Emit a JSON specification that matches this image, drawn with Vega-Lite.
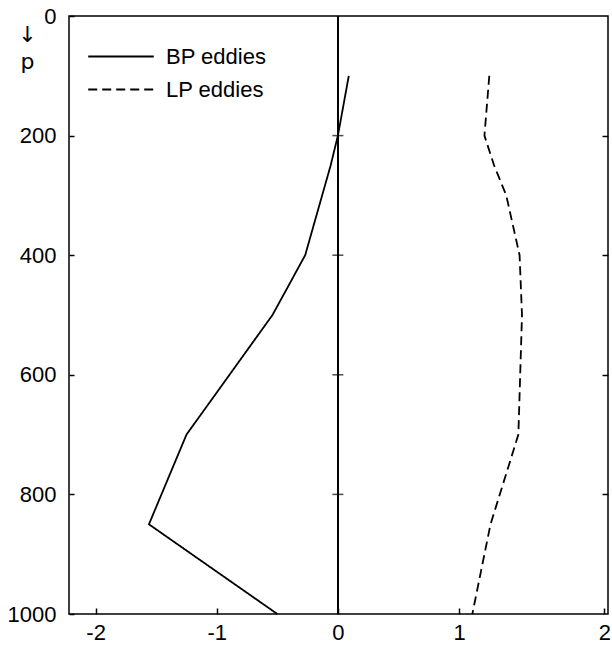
{
  "$schema": "https://vega.github.io/schema/vega-lite/v6.json",
  "width": 539,
  "height": 598,
  "autosize": {"type": "none"},
  "padding": {"left": 69, "top": 16, "right": 4, "bottom": 31},
  "background": "white",
  "config": {
    "view": {"stroke": "black", "strokeWidth": 1.5},
    "font": "Liberation Sans",
    "axis": {"grid": false, "domain": false, "labelFontSize": 22, "labelColor": "black", "tickColor": "black", "tickWidth": 1.5, "labelFont": "Liberation Sans"}
  },
  "datasets": {
    "profiles": [
      {"series": "BP eddies", "p": 100, "v": 0.09},
      {"series": "BP eddies", "p": 200, "v": 0.0},
      {"series": "BP eddies", "p": 250, "v": -0.06},
      {"series": "BP eddies", "p": 400, "v": -0.27},
      {"series": "BP eddies", "p": 500, "v": -0.54},
      {"series": "BP eddies", "p": 700, "v": -1.25},
      {"series": "BP eddies", "p": 850, "v": -1.56},
      {"series": "BP eddies", "p": 1000, "v": -0.5},
      {"series": "LP eddies", "p": 100, "v": 1.25},
      {"series": "LP eddies", "p": 200, "v": 1.21},
      {"series": "LP eddies", "p": 250, "v": 1.29},
      {"series": "LP eddies", "p": 300, "v": 1.39},
      {"series": "LP eddies", "p": 400, "v": 1.5},
      {"series": "LP eddies", "p": 500, "v": 1.52},
      {"series": "LP eddies", "p": 700, "v": 1.49},
      {"series": "LP eddies", "p": 850, "v": 1.26},
      {"series": "LP eddies", "p": 1000, "v": 1.11}
    ],
    "zeroTicks": [
      {"v": 0, "p": 200},
      {"v": 0, "p": 400},
      {"v": 0, "p": 600},
      {"v": 0, "p": 800}
    ]
  },
  "layer": [
    {
      "data": {"name": "zeroTicks"},
      "mark": {"type": "rule", "color": "black", "strokeWidth": 1.5},
      "encoding": {
        "x": {"datum": 0, "type": "quantitative", "scale": {"domain": [-2.22, 2.23], "nice": false, "zero": false},
          "axis": {"values": [-2, -1, 0, 1, 2.2], "format": "d", "labelExpr": "datum.value > 2 ? '2' : replace(datum.label, '−', '-')", "tickSize": -6, "labelPadding": 14, "title": null, "labelBound": false, "labelFlush": false}}
      }
    },
    {
      "data": {"name": "zeroTicks"},
      "mark": {"type": "tick", "orient": "horizontal", "color": "black", "size": 11, "thickness": 1.5},
      "encoding": {
        "x": {"field": "v", "type": "quantitative"},
        "y": {"field": "p", "type": "quantitative", "scale": {"domain": [0, 1000], "reverse": true, "nice": false, "zero": false},
          "axis": {"orient": "right", "values": [200, 400, 600, 800], "labels": false, "tickSize": -6, "title": null}}
      }
    },
    {
      "data": {"name": "profiles"},
      "mark": {"type": "line", "color": "black", "strokeWidth": 1.8},
      "encoding": {
        "x": {"field": "v", "type": "quantitative"},
        "y": {"field": "p", "type": "quantitative", "sort": null,
          "axis": {"orient": "left", "values": [0, 200, 400, 600, 800, 1000], "format": "d", "tickSize": -5, "labelPadding": 18,
            "title": ["↓", "p"], "titleAngle": 0, "titleAlign": "center", "titleBaseline": "top", "titleX": -42, "titleY": 8,
            "titleFontSize": 22, "titleFontWeight": "normal", "titleLineHeight": 27, "titleFont": "DejaVu Sans"}},
        "order": {"field": "p", "type": "quantitative"},
        "strokeDash": {"field": "series", "type": "nominal",
          "scale": {"domain": ["BP eddies", "LP eddies"], "range": [[1, 0], [9, 5]]},
          "legend": {"orient": "none", "legendX": 18, "legendY": 24, "title": null, "symbolType": "stroke", "symbolSize": 4300,
            "symbolStrokeWidth": 1.8, "symbolStrokeColor": "black", "labelFontSize": 22, "labelOffset": 11, "padding": 0, "rowPadding": 0, "clipHeight": 33, "labelColor": "black"}}
      }
    }
  ],
  "resolve": {"axis": {"y": "independent"}}
}
